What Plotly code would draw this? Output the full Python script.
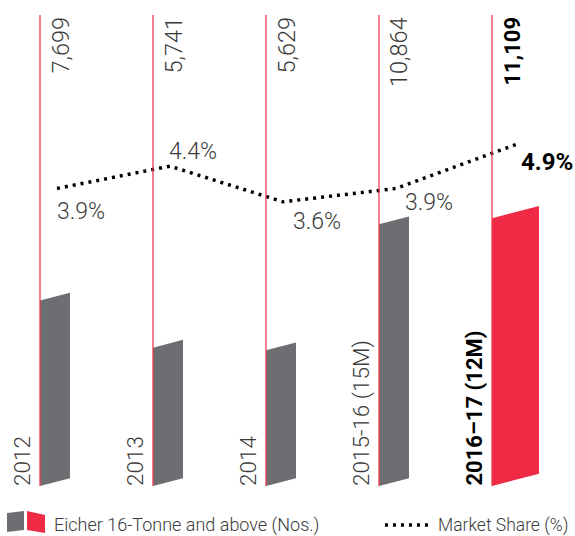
import plotly.graph_objects as go

# ---------------- data ----------------
years = ["2012", "2013", "2014", "2015-16 (15M)", "2016–17 (12M)"]
volumes = [7699, 5741, 5629, 10864, 11109]
volume_labels = ["7,699", "5,741", "5,629", "10,864", "11,109"]
market_share = [3.9, 4.4, 3.6, 3.9, 4.9]
share_labels = ["3.9%", "4.4%", "3.6%", "3.9%", "4.9%"]
highlight = [False, False, False, False, True]

# ---------------- style / layout constants ----------------
W, H = 575, 536
X0_PX, STEP_PX = 40, 113          # pixel position of first category line, spacing
BASE_PX, K_PX = 486, 0.0241       # baseline pixel, pixels per unit (volume)
S_A, S_B = 362.2, 44.55           # share axis: px = S_A - S_B * v
GRAY, RED, LINE_RED, TXT = "#6d6e71", "#ee2a45", "#ec3b50", "#3a3a3a"
FONT = "Roboto"
bar_w_px = [30, 30, 30, 30, 47]
slant_px_per_px = 0.26
lbl_dx = [-2, -3, 8, 7, 1]       # share label offsets (px)
lbl_dy = [23, -15, 20, 14, 18]

x_range = [-X0_PX / STEP_PX, (W - X0_PX) / STEP_PX]
y_range = [-(H - BASE_PX) / K_PX, BASE_PX / K_PX]
y2_range = [(S_A - H) / S_B, S_A / S_B]

fig = go.Figure()

# slanted bars
for i, (v, hl) in enumerate(zip(volumes, highlight)):
    w = bar_w_px[i] / STEP_PX
    s = bar_w_px[i] * slant_px_per_px / K_PX
    col = RED if hl else GRAY
    fig.add_trace(go.Scatter(
        x=[i, i + w, i + w, i, i],
        y=[0, s, v + s, v, 0],
        fill="toself", fillcolor=col, mode="lines",
        line=dict(width=0, color=col), hoverinfo="skip", showlegend=False))

# market share dotted line
share_x = [i + bar_w_px[i] / STEP_PX / 2 + 2 / STEP_PX for i in range(len(years))]
fig.add_trace(go.Scatter(
    x=share_x, y=market_share, yaxis="y2", mode="lines",
    line=dict(color="black", width=3.5, dash="3px,5px"),
    hoverinfo="skip", showlegend=False))

# vertical red lines
top_val = (BASE_PX - 15) / K_PX
for i in range(len(years)):
    fig.add_shape(type="line", xref="x", yref="y", x0=i, x1=i, y0=0, y1=top_val,
                  line=dict(color=LINE_RED, width=1.3), layer="above")

annotations = []
for i in range(len(years)):
    hl = highlight[i]
    # value labels at the top
    annotations.append(dict(
        xref="x", yref="paper", x=i, y=1 - 15 / H, xshift=20,
        text=volume_labels[i], textangle=-90, showarrow=False,
        xanchor="center", yanchor="top",
        font=dict(family=FONT, size=22 if hl else 23.5, color="black" if hl else TXT,
                  weight=700 if hl else 300)))
    # year labels at the bottom
    annotations.append(dict(
        xref="x", yref="y", x=i, y=0, xshift=-18, yshift=-2,
        text=years[i], textangle=-90, showarrow=False,
        xanchor="center", yanchor="bottom",
        font=dict(family=FONT, size=22 if hl else 22.5, color="black" if hl else TXT,
                  weight=700 if hl else 300)))
    # market share labels
    annotations.append(dict(
        xref="x", yref="y2", x=share_x[i], y=market_share[i],
        xshift=lbl_dx[i], yshift=-lbl_dy[i],
        text=share_labels[i], showarrow=False,
        xanchor="left", yanchor="middle",
        font=dict(family=FONT, size=24 if hl else 23, color="black" if hl else TXT,
                  weight=700 if hl else 300)))

# legend (custom)
def px(x, y):
    return x / W, 1 - y / H

def path(pts):
    s = ""
    for k, (x, y) in enumerate(pts):
        X, Y = px(x, y)
        s += ("M" if k == 0 else "L") + f"{X:.5f},{Y:.5f}"
    return s + "Z"

fig.add_shape(type="path", xref="paper", yref="paper",
              path=path([(7, 513), (24, 511), (24, 530), (7, 532)]),
              fillcolor=GRAY, line=dict(width=0))
fig.add_shape(type="path", xref="paper", yref="paper",
              path=path([(27, 511), (45, 515), (45, 533), (27, 530)]),
              fillcolor=RED, line=dict(width=0))
lx0, ly = px(385, 525)
lx1, _ = px(430, 525)
fig.add_shape(type="line", xref="paper", yref="paper", x0=lx0, x1=lx1, y0=ly, y1=ly,
              line=dict(color="black", width=3.5, dash="3px,5px"))
annotations.append(dict(xref="paper", yref="paper", x=52 / W, y=1 - 525 / H,
                        xanchor="left", yanchor="middle", showarrow=False,
                        text="Eicher 16-Tonne and above (Nos.)",
                        font=dict(family=FONT, size=18, color=TXT, weight=300)))
annotations.append(dict(xref="paper", yref="paper", x=436 / W, y=1 - 525 / H,
                        xanchor="left", yanchor="middle", showarrow=False,
                        text="Market Share (%)",
                        font=dict(family=FONT, size=17.5, color=TXT, weight=300)))

fig.update_layout(
    width=W, height=H, autosize=False,
    margin=dict(l=0, r=0, t=0, b=0),
    paper_bgcolor="white", plot_bgcolor="white",
    showlegend=False, annotations=annotations,
    xaxis=dict(range=x_range, visible=False, fixedrange=True),
    yaxis=dict(range=y_range, visible=False, fixedrange=True),
    yaxis2=dict(range=y2_range, visible=False, overlaying="y", fixedrange=True),
)

fig.write_html("out.html", config={"displayModeBar": False},
               post_script="document.body.style.margin='0';document.body.style.overflow='hidden';")
